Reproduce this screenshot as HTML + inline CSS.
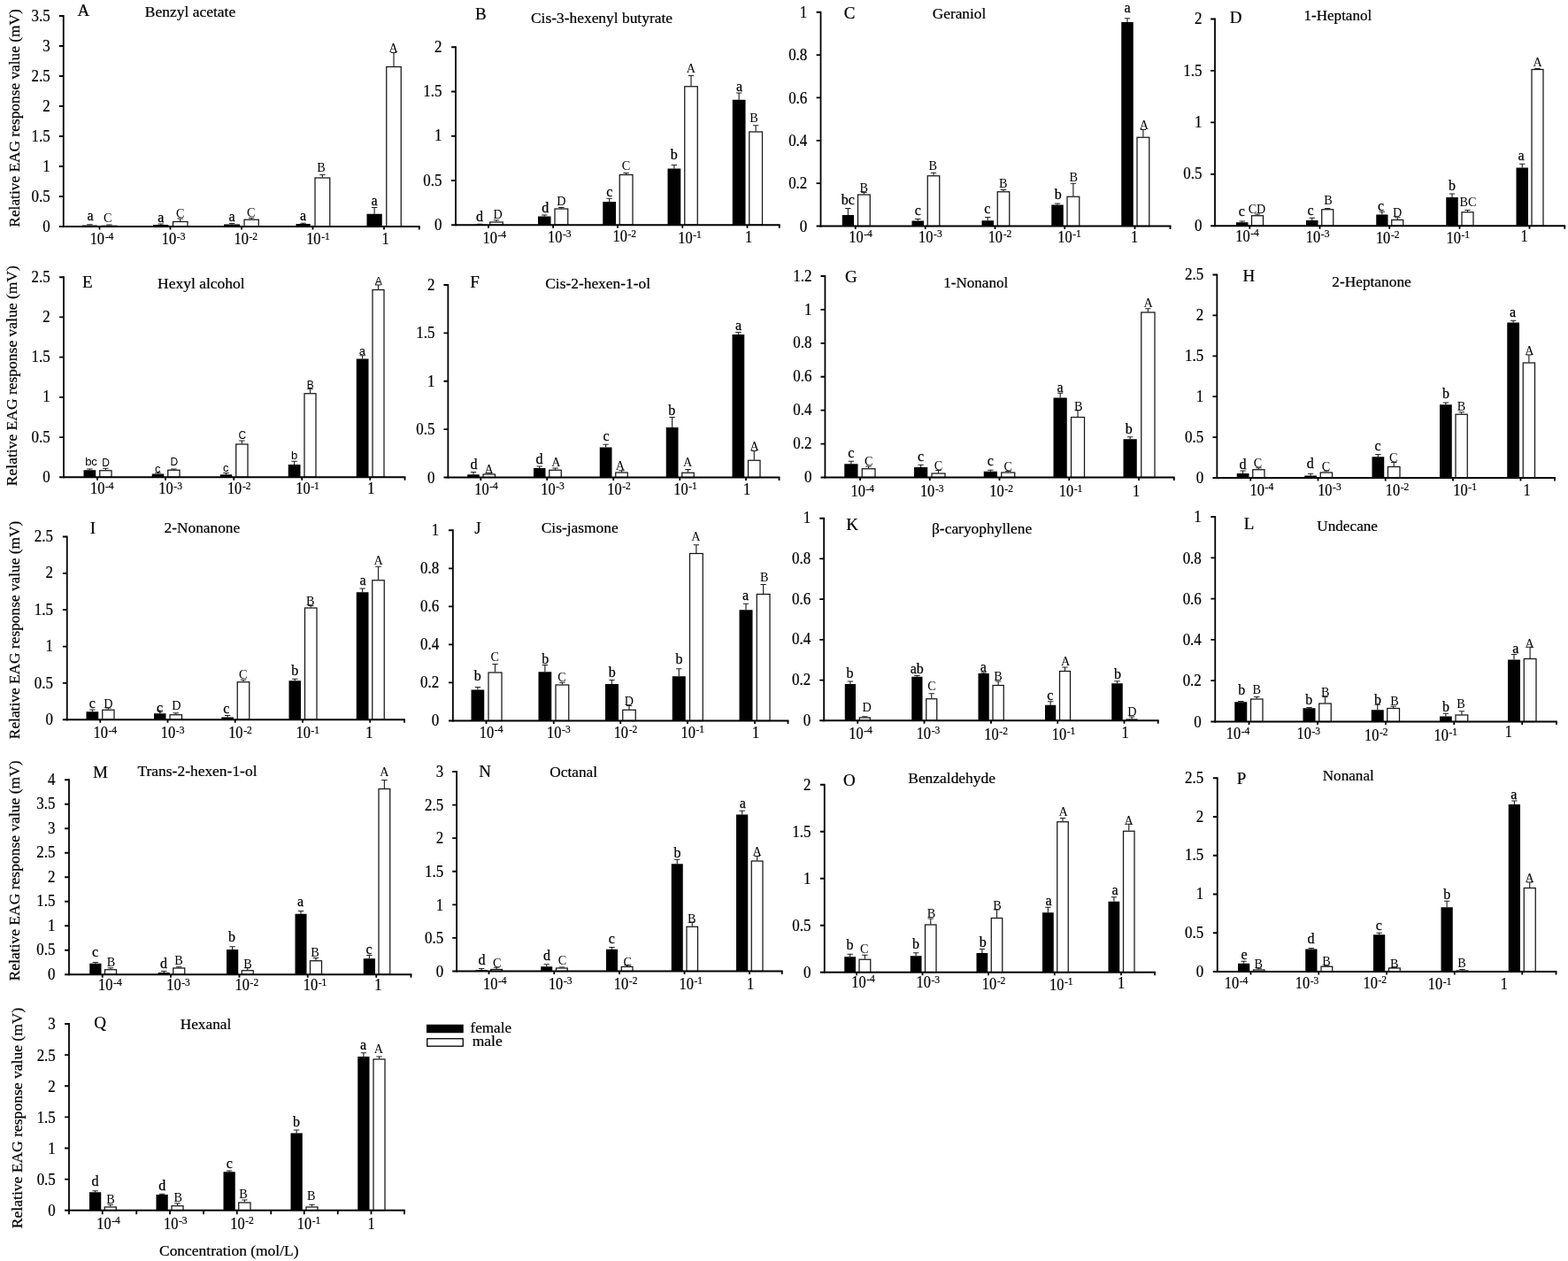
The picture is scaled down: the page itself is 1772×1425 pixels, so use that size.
<!DOCTYPE html>
<html lang="en"><head><meta charset="utf-8"><title>Relative EAG response values</title>
<style>
html,body{margin:0;padding:0;background:#fff;}
body{width:1772px;height:1425px;overflow:hidden;}
svg{display:block;}
text{font-family:'Liberation Serif',serif;fill:#000;stroke:#000;stroke-width:0.22px;}
.ax{stroke:#000;stroke-width:2.2;fill:none;}
.ay{stroke:#000;stroke-width:1.8;fill:none;}
.tk{stroke:#000;stroke-width:1.8;fill:none;}
.eb{stroke:#222;stroke-width:1.15;fill:none;}
.bb{fill:#000;}
.wb{fill:#fff;stroke:#151515;stroke-width:1.25;}
.yt{font-size:18.2px;text-anchor:end;}
.xt{font-size:18.4px;}
.sp{font-size:13px;}
.l{font-size:16px;text-anchor:middle;stroke-width:0.25px;}
.u{font-size:14.2px;text-anchor:middle;stroke:none;}
.ls{font-family:'Liberation Sans',sans-serif;font-size:13px;text-anchor:middle;stroke:none;}
.us{font-family:'Liberation Sans',sans-serif;font-size:12px;text-anchor:middle;stroke:none;}
.pl{font-size:19px;}
.ti{font-size:17px;}
.yl{font-size:17.5px;}
.lg{font-size:17px;}
</style></head>
<body>
<svg width="1772" height="1425" viewBox="0 0 1772 1425">
<rect width="1772" height="1425" fill="#fff"/>
<g id="pA">
<path d="M101.38 254.5V253.75M98.17 253.75H104.58" class="eb"/>
<path d="M123.5 254.75V254M120.3 254H126.7" class="eb"/>
<rect x="93" y="254.5" width="16.75" height="1.5" class="bb"/>
<rect x="115" y="255.25" width="17" height="0.75" class="wb"/>
<path d="M181.75 254V253M178.55 253H184.95" class="eb"/>
<path d="M203.75 250V247M200.55 247H206.95" class="eb"/>
<rect x="173" y="254" width="17.5" height="2" class="bb"/>
<rect x="195.5" y="250.5" width="16.5" height="5.5" class="wb"/>
<path d="M262.12 253.5V252.5M258.93 252.5H265.32" class="eb"/>
<path d="M284.12 247.75V246.25M280.93 246.25H287.32" class="eb"/>
<rect x="253" y="253.5" width="18.25" height="2.5" class="bb"/>
<rect x="276" y="248.25" width="16.25" height="7.75" class="wb"/>
<path d="M342.62 253V252.25M339.43 252.25H345.82" class="eb"/>
<path d="M364.38 200.5V197.5M361.18 197.5H367.57" class="eb"/>
<rect x="334.5" y="253" width="16.25" height="3" class="bb"/>
<rect x="356" y="201" width="16.75" height="55" class="wb"/>
<path d="M423.12 241.75V234.5M419.93 234.5H426.32" class="eb"/>
<path d="M445 75V59.5M441.8 59.5H448.2" class="eb"/>
<rect x="414.5" y="241.75" width="17.25" height="14.25" class="bb"/>
<rect x="436.75" y="75.5" width="16.5" height="180.5" class="wb"/>
<path d="M71.75 17.1V257.1" class="ay"/>
<path d="M66.85 256H474.65" class="ax"/>
<path d="M66.85 18H71.75M66.85 52H71.75M66.85 86H71.75M66.85 120H71.75M66.85 154H71.75M66.85 188H71.75M66.85 222H71.75M112.5 256V259.6M192.5 256V259.6M273 256V259.6M353.5 256V259.6M434 256V259.6M473.75 256V259.6" class="tk"/>
<text transform="translate(56.7 23.6) scale(0.93 1)" class="yt">3.5</text>
<text transform="translate(56.7 57.6) scale(0.93 1)" class="yt">3</text>
<text transform="translate(56.7 91.6) scale(0.93 1)" class="yt">2.5</text>
<text transform="translate(56.7 125.6) scale(0.93 1)" class="yt">2</text>
<text transform="translate(56.7 159.6) scale(0.93 1)" class="yt">1.5</text>
<text transform="translate(56.7 193.6) scale(0.93 1)" class="yt">1</text>
<text transform="translate(56.7 227.6) scale(0.93 1)" class="yt">0.5</text>
<text transform="translate(56.7 261.6) scale(0.93 1)" class="yt">0</text>
<text transform="translate(101.65 276.45) scale(0.89 1)" class="xt">10<tspan class="sp" dx="0.7" dy="-5.6">-4</tspan></text>
<text transform="translate(182.82 276.45) scale(0.89 1)" class="xt">10<tspan class="sp" dx="0.7" dy="-5.6">-3</tspan></text>
<text transform="translate(264.48 276.45) scale(0.89 1)" class="xt">10<tspan class="sp" dx="0.7" dy="-5.6">-2</tspan></text>
<text transform="translate(346.15 276.45) scale(0.89 1)" class="xt">10<tspan class="sp" dx="0.7" dy="-5.6">-1</tspan></text>
<text transform="translate(435.7 276.45) scale(0.89 1)" class="xt" text-anchor="middle">1</text>
<text x="102" y="248.75" class="l">a</text>
<text x="181.75" y="250.5" class="l">a</text>
<text x="262" y="249.5" class="l">a</text>
<text x="342.5" y="249.25" class="l">a</text>
<text x="423" y="231.75" class="l">a</text>
<text x="121.75" y="251.2" class="u">C</text>
<text x="203.75" y="245.7" class="u">C</text>
<text x="283.75" y="245.45" class="u">C</text>
<text x="363" y="194.2" class="u">B</text>
<text x="444.5" y="58.7" class="u">A</text>
<text x="87.5" y="17.5" class="pl">A</text>
<text x="163.75" y="18.75" class="ti" textLength="102.5" lengthAdjust="spacingAndGlyphs">Benzyl acetate</text>
<text transform="translate(22 133.4) rotate(-90)" class="yl" text-anchor="middle" textLength="246.5" lengthAdjust="spacingAndGlyphs">Relative EAG response value (mV)</text>
</g>
<g id="pB">
<path d="M542.25 253.75V253.25M539.05 253.25H545.45" class="eb"/>
<path d="M561 250.5V248.75M557.8 248.75H564.2" class="eb"/>
<rect x="535" y="253.75" width="14.5" height="0.5" class="bb"/>
<rect x="553.75" y="251" width="14.5" height="3.25" class="wb"/>
<path d="M615.25 244.5V243M612.05 243H618.45" class="eb"/>
<path d="M634.38 235.5V234.5M631.17 234.5H637.58" class="eb"/>
<rect x="608" y="244.5" width="14.5" height="9.75" class="bb"/>
<rect x="627" y="236" width="14.75" height="18.25" class="wb"/>
<path d="M688.62 228V224.25M685.42 224.25H691.83" class="eb"/>
<path d="M707.62 197V195.5M704.42 195.5H710.83" class="eb"/>
<rect x="681.25" y="228" width="14.75" height="26.25" class="bb"/>
<rect x="700.25" y="197.5" width="14.75" height="56.75" class="wb"/>
<path d="M761.88 190.5V186.5M758.67 186.5H765.08" class="eb"/>
<path d="M781 97.25V85.5M777.8 85.5H784.2" class="eb"/>
<rect x="754.5" y="190.5" width="14.75" height="63.75" class="bb"/>
<rect x="773.75" y="97.75" width="14.5" height="156.5" class="wb"/>
<path d="M835.12 112.75V105M831.92 105H838.33" class="eb"/>
<path d="M854.12 148.5V141.75M850.92 141.75H857.33" class="eb"/>
<rect x="827.75" y="112.75" width="14.75" height="141.5" class="bb"/>
<rect x="846.75" y="149" width="14.75" height="105.25" class="wb"/>
<path d="M515 52.35V255.35" class="ay"/>
<path d="M510.1 254.25H881.65" class="ax"/>
<path d="M510.1 53.25H515M510.1 103.5H515M510.1 153.75H515M510.1 204H515M552 254.25V257.85M625 254.25V257.85M698 254.25V257.85M771.25 254.25V257.85M844.5 254.25V257.85M880.75 254.25V257.85" class="tk"/>
<text transform="translate(499.5 58.85) scale(0.93 1)" class="yt">2</text>
<text transform="translate(499.5 109.1) scale(0.93 1)" class="yt">1.5</text>
<text transform="translate(499.5 159.35) scale(0.93 1)" class="yt">1</text>
<text transform="translate(499.5 209.6) scale(0.93 1)" class="yt">0.5</text>
<text transform="translate(499.5 259.85) scale(0.93 1)" class="yt">0</text>
<text transform="translate(545.5 275) scale(0.89 1)" class="xt">10<tspan class="sp" dx="0.7" dy="-5.6">-4</tspan></text>
<text transform="translate(619 273.9) scale(0.89 1)" class="xt">10<tspan class="sp" dx="0.7" dy="-5.6">-3</tspan></text>
<text transform="translate(692.5 273.4) scale(0.89 1)" class="xt">10<tspan class="sp" dx="0.7" dy="-5.6">-2</tspan></text>
<text transform="translate(766.25 274.5) scale(0.89 1)" class="xt">10<tspan class="sp" dx="0.7" dy="-5.6">-1</tspan></text>
<text transform="translate(846 273.9) scale(0.89 1)" class="xt" text-anchor="middle">1</text>
<text x="542" y="249.5" class="l">d</text>
<text x="616.25" y="240" class="l">d</text>
<text x="688.75" y="222" class="l">c</text>
<text x="761.75" y="180" class="l">b</text>
<text x="835.5" y="102.5" class="l">a</text>
<text x="562.5" y="247.45" class="u">D</text>
<text x="634.25" y="232.45" class="u">D</text>
<text x="707.5" y="192.45" class="u">C</text>
<text x="780.75" y="82.45" class="u">A</text>
<text x="852" y="138.2" class="u">B</text>
<text x="537" y="22" class="pl">B</text>
<text x="600" y="25.75" class="ti" textLength="160" lengthAdjust="spacingAndGlyphs">Cis-3-hexenyl butyrate</text>
</g>
<g id="pC">
<path d="M958.38 243V235.5M955.17 235.5H961.58" class="eb"/>
<path d="M976.38 219.5V217.5M973.17 217.5H979.58" class="eb"/>
<rect x="951.75" y="243" width="13.25" height="12.5" class="bb"/>
<rect x="969.5" y="220" width="13.75" height="35.5" class="wb"/>
<path d="M1037.25 249.5V247.5M1034.05 247.5H1040.45" class="eb"/>
<path d="M1055 198.25V195.25M1051.8 195.25H1058.2" class="eb"/>
<rect x="1030.5" y="249.5" width="13.5" height="6" class="bb"/>
<rect x="1048.25" y="198.75" width="13.5" height="56.75" class="wb"/>
<path d="M1116.25 249.25V245.5M1113.05 245.5H1119.45" class="eb"/>
<path d="M1134 216.25V214.5M1130.8 214.5H1137.2" class="eb"/>
<rect x="1109.5" y="249.25" width="13.5" height="6.25" class="bb"/>
<rect x="1127.25" y="216.75" width="13.5" height="38.75" class="wb"/>
<path d="M1195 231.5V230M1191.8 230H1198.2" class="eb"/>
<path d="M1212.88 221.75V207.25M1209.67 207.25H1216.08" class="eb"/>
<rect x="1188.25" y="231.5" width="13.5" height="24" class="bb"/>
<rect x="1206" y="222.25" width="13.75" height="33.25" class="wb"/>
<path d="M1274 25V20.75M1270.8 20.75H1277.2" class="eb"/>
<path d="M1291.88 154.75V146.5M1288.67 146.5H1295.08" class="eb"/>
<rect x="1267.25" y="25" width="13.5" height="230.5" class="bb"/>
<rect x="1285" y="155.25" width="13.75" height="100.25" class="wb"/>
<path d="M927.5 12.85V256.6" class="ay"/>
<path d="M922.6 255.5H1323.4" class="ax"/>
<path d="M922.6 13.75H927.5M922.6 62.1H927.5M922.6 110.45H927.5M922.6 158.8H927.5M922.6 207.15H927.5M966.75 255.5V259.1M1045.75 255.5V259.1M1124.5 255.5V259.1M1203.25 255.5V259.1M1282.5 255.5V259.1M1322.5 255.5V259.1" class="tk"/>
<text transform="translate(912.3 19.85) scale(0.93 1)" class="yt">1</text>
<text transform="translate(912.3 68.2) scale(0.93 1)" class="yt">0.8</text>
<text transform="translate(912.3 116.55) scale(0.93 1)" class="yt">0.6</text>
<text transform="translate(912.3 164.9) scale(0.93 1)" class="yt">0.4</text>
<text transform="translate(912.3 213.25) scale(0.93 1)" class="yt">0.2</text>
<text transform="translate(912.3 261.6) scale(0.93 1)" class="yt">0</text>
<text transform="translate(959.25 273.6) scale(0.89 1)" class="xt">10<tspan class="sp" dx="0.7" dy="-5.6">-4</tspan></text>
<text transform="translate(1038.08 273.6) scale(0.89 1)" class="xt">10<tspan class="sp" dx="0.7" dy="-5.6">-3</tspan></text>
<text transform="translate(1116.67 273.6) scale(0.89 1)" class="xt">10<tspan class="sp" dx="0.7" dy="-5.6">-2</tspan></text>
<text transform="translate(1195.25 273.6) scale(0.89 1)" class="xt">10<tspan class="sp" dx="0.7" dy="-5.6">-1</tspan></text>
<text transform="translate(1282 273.6) scale(0.89 1)" class="xt" text-anchor="middle">1</text>
<text x="958.25" y="231.25" class="l">bc</text>
<text x="1037.25" y="243" class="l">c</text>
<text x="1115.75" y="240.5" class="l">c</text>
<text x="1195.75" y="225" class="l">b</text>
<text x="1274" y="13.75" class="l">a</text>
<text x="976.25" y="216.7" class="u">B</text>
<text x="1054.25" y="191.7" class="u">B</text>
<text x="1133.75" y="211.7" class="u">B</text>
<text x="1213.25" y="204.7" class="u">B</text>
<text x="1292.75" y="146.2" class="u">A</text>
<text x="953.75" y="21" class="pl">C</text>
<text x="1053.75" y="21.25" class="ti" textLength="60.5" lengthAdjust="spacingAndGlyphs">Geraniol</text>
</g>
<g id="pD">
<path d="M1403.75 251.25V250M1400.55 250H1406.95" class="eb"/>
<path d="M1421 243.25V242M1417.8 242H1424.2" class="eb"/>
<rect x="1397" y="251.25" width="13.5" height="4" class="bb"/>
<rect x="1414.5" y="243.75" width="13" height="11.5" class="wb"/>
<path d="M1482.75 249V246.25M1479.55 246.25H1485.95" class="eb"/>
<path d="M1500.25 236.25V235.5M1497.05 235.5H1503.45" class="eb"/>
<rect x="1476" y="249" width="13.5" height="6.25" class="bb"/>
<rect x="1493.75" y="236.75" width="13" height="18.5" class="wb"/>
<path d="M1561.88 242.5V239.25M1558.67 239.25H1565.08" class="eb"/>
<path d="M1579.25 248V245.75M1576.05 245.75H1582.45" class="eb"/>
<rect x="1555.25" y="242.5" width="13.25" height="12.75" class="bb"/>
<rect x="1572.75" y="248.5" width="13" height="6.75" class="wb"/>
<path d="M1641 223V219M1637.8 219H1644.2" class="eb"/>
<path d="M1658.5 239.25V237.5M1655.3 237.5H1661.7" class="eb"/>
<rect x="1634.25" y="223" width="13.5" height="32.25" class="bb"/>
<rect x="1652" y="239.75" width="13" height="15.5" class="wb"/>
<path d="M1720.25 189.5V185.25M1717.05 185.25H1723.45" class="eb"/>
<path d="M1737.5 78V77.5M1734.3 77.5H1740.7" class="eb"/>
<rect x="1713.5" y="189.5" width="13.5" height="65.75" class="bb"/>
<rect x="1731" y="78.5" width="13" height="176.75" class="wb"/>
<path d="M1373 20.6V256.35" class="ay"/>
<path d="M1368.1 255.25H1769.15" class="ax"/>
<path d="M1368.1 21.5H1373M1368.1 79.94H1373M1368.1 138.38H1373M1368.1 196.81H1373M1412.25 255.25V258.85M1491.5 255.25V258.85M1570.25 255.25V258.85M1649.5 255.25V258.85M1728.5 255.25V258.85M1768.25 255.25V258.85" class="tk"/>
<text transform="translate(1358.5 27.1) scale(0.93 1)" class="yt">2</text>
<text transform="translate(1358.5 85.54) scale(0.93 1)" class="yt">1.5</text>
<text transform="translate(1358.5 143.97) scale(0.93 1)" class="yt">1</text>
<text transform="translate(1358.5 202.41) scale(0.93 1)" class="yt">0.5</text>
<text transform="translate(1358.5 260.85) scale(0.93 1)" class="yt">0</text>
<text transform="translate(1396.25 273.05) scale(0.89 1)" class="xt">10<tspan class="sp" dx="0.7" dy="-5.6">-4</tspan></text>
<text transform="translate(1475.83 274.05) scale(0.89 1)" class="xt">10<tspan class="sp" dx="0.7" dy="-5.6">-3</tspan></text>
<text transform="translate(1554.92 275.05) scale(0.89 1)" class="xt">10<tspan class="sp" dx="0.7" dy="-5.6">-2</tspan></text>
<text transform="translate(1634.5 275.05) scale(0.89 1)" class="xt">10<tspan class="sp" dx="0.7" dy="-5.6">-1</tspan></text>
<text transform="translate(1722.5 273.05) scale(0.89 1)" class="xt" text-anchor="middle">1</text>
<text x="1403.25" y="243.75" class="l">c</text>
<text x="1481" y="242.5" class="l">c</text>
<text x="1560.5" y="237.5" class="l">c</text>
<text x="1641" y="215" class="l">b</text>
<text x="1719" y="180.5" class="l">a</text>
<text x="1420.5" y="241.2" class="u">CD</text>
<text x="1501" y="230.7" class="u">B</text>
<text x="1579" y="244.95" class="u">D</text>
<text x="1659" y="233.2" class="u">BC</text>
<text x="1737.5" y="74.95" class="u">A</text>
<text x="1389.75" y="26" class="pl">D</text>
<text x="1473.5" y="22.5" class="ti" textLength="76.75" lengthAdjust="spacingAndGlyphs">1-Heptanol</text>
</g>
<g id="pE">
<path d="M101.38 531.25V530M98.17 530H104.58" class="eb"/>
<path d="M119.38 531.25V529.25M116.17 529.25H122.58" class="eb"/>
<rect x="94.5" y="531.25" width="13.75" height="8" class="bb"/>
<rect x="112.75" y="531.75" width="13.25" height="7.5" class="wb"/>
<path d="M178.5 535.5V534.25M175.3 534.25H181.7" class="eb"/>
<path d="M196.38 530.75V530M193.18 530H199.57" class="eb"/>
<rect x="171.75" y="535.5" width="13.5" height="3.75" class="bb"/>
<rect x="189.75" y="531.25" width="13.25" height="8" class="wb"/>
<path d="M255.5 536.25V534.5M252.3 534.5H258.7" class="eb"/>
<path d="M273.38 501.5V498M270.18 498H276.57" class="eb"/>
<rect x="248.75" y="536.25" width="13.5" height="3" class="bb"/>
<rect x="266.75" y="502" width="13.25" height="37.25" class="wb"/>
<path d="M332.62 525V521.25M329.43 521.25H335.82" class="eb"/>
<path d="M350.5 444.25V439.5M347.3 439.5H353.7" class="eb"/>
<rect x="325.75" y="525" width="13.75" height="14.25" class="bb"/>
<rect x="344" y="444.75" width="13" height="94.5" class="wb"/>
<path d="M409.62 405.5V401.75M406.43 401.75H412.82" class="eb"/>
<path d="M427.5 327V322M424.3 322H430.7" class="eb"/>
<rect x="402.75" y="405.5" width="13.75" height="133.75" class="bb"/>
<rect x="421" y="327.5" width="13" height="211.75" class="wb"/>
<path d="M72 312.35V540.35" class="ay"/>
<path d="M67.1 539.25H458.4" class="ax"/>
<path d="M67.1 313.25H72M67.1 358.45H72M67.1 403.65H72M67.1 448.85H72M67.1 494.05H72M110 539.25V542.85M187 539.25V542.85M264.25 539.25V542.85M341.25 539.25V542.85M418.25 539.25V542.85M457.5 539.25V542.85" class="tk"/>
<text transform="translate(56.7 318.85) scale(0.93 1)" class="yt">2.5</text>
<text transform="translate(56.7 364.05) scale(0.93 1)" class="yt">2</text>
<text transform="translate(56.7 409.25) scale(0.93 1)" class="yt">1.5</text>
<text transform="translate(56.7 454.45) scale(0.93 1)" class="yt">1</text>
<text transform="translate(56.7 499.65) scale(0.93 1)" class="yt">0.5</text>
<text transform="translate(56.7 544.85) scale(0.93 1)" class="yt">0</text>
<text transform="translate(102 558.1) scale(0.89 1)" class="xt">10<tspan class="sp" dx="0.7" dy="-5.6">-4</tspan></text>
<text transform="translate(179.33 558.1) scale(0.89 1)" class="xt">10<tspan class="sp" dx="0.7" dy="-5.6">-3</tspan></text>
<text transform="translate(256.92 558.1) scale(0.89 1)" class="xt">10<tspan class="sp" dx="0.7" dy="-5.6">-2</tspan></text>
<text transform="translate(334.25 558.1) scale(0.89 1)" class="xt">10<tspan class="sp" dx="0.7" dy="-5.6">-1</tspan></text>
<text transform="translate(419.25 558.1) scale(0.89 1)" class="xt" text-anchor="middle">1</text>
<text x="103" y="526.25" class="ls">bc</text>
<text x="178.25" y="533.75" class="ls">c</text>
<text x="255.25" y="532.5" class="ls">c</text>
<text x="332.5" y="518.75" class="ls">b</text>
<text x="409.25" y="400.5" class="ls">a</text>
<text x="119.5" y="526.75" class="us">D</text>
<text x="196.75" y="526.25" class="us">D</text>
<text x="273.75" y="495.5" class="us">C</text>
<text x="350.75" y="438.75" class="us">B</text>
<text x="427.75" y="322.25" class="us">A</text>
<text x="93" y="324.5" class="pl">E</text>
<text x="178" y="325.75" class="ti" textLength="98.75" lengthAdjust="spacingAndGlyphs">Hexyl alcohol</text>
<text transform="translate(18.8 424.7) rotate(-90)" class="yl" text-anchor="middle" textLength="249" lengthAdjust="spacingAndGlyphs">Relative EAG response value (mV)</text>
</g>
<g id="pF">
<path d="M535 536.25V533.5M531.8 533.5H538.2" class="eb"/>
<path d="M552.75 535.5V534.5M549.55 534.5H555.95" class="eb"/>
<rect x="528.25" y="536.25" width="13.5" height="3.25" class="bb"/>
<rect x="546" y="536" width="13.5" height="3.5" class="wb"/>
<path d="M609.75 529V527M606.55 527H612.95" class="eb"/>
<path d="M627.5 530.75V529M624.3 529H630.7" class="eb"/>
<rect x="603" y="529" width="13.5" height="10.5" class="bb"/>
<rect x="620.75" y="531.25" width="13.5" height="8.25" class="wb"/>
<path d="M684.62 505.5V502.25M681.42 502.25H687.83" class="eb"/>
<path d="M702.5 533.5V531.75M699.3 531.75H705.7" class="eb"/>
<rect x="677.75" y="505.5" width="13.75" height="34" class="bb"/>
<rect x="695.75" y="534" width="13.5" height="5.5" class="wb"/>
<path d="M759.62 483V471.5M756.42 471.5H762.83" class="eb"/>
<path d="M777.5 533.75V530.5M774.3 530.5H780.7" class="eb"/>
<rect x="752.75" y="483" width="13.75" height="56.5" class="bb"/>
<rect x="770.75" y="534.25" width="13.5" height="5.25" class="wb"/>
<path d="M834.38 378V375.5M831.17 375.5H837.58" class="eb"/>
<path d="M852.25 519.75V509.5M849.05 509.5H855.45" class="eb"/>
<rect x="827.5" y="378" width="13.75" height="161.5" class="bb"/>
<rect x="845.5" y="520.25" width="13.5" height="19.25" class="wb"/>
<path d="M506.35 321.1V540.6" class="ay"/>
<path d="M501.45 539.5H881.4" class="ax"/>
<path d="M501.45 322H506.35M501.45 376.38H506.35M501.45 430.75H506.35M501.45 485.12H506.35M543.25 539.5V543.1M618.25 539.5V543.1M693.25 539.5V543.1M768.25 539.5V543.1M843 539.5V543.1M880.5 539.5V543.1" class="tk"/>
<text transform="translate(491.4 328.1) scale(0.93 1)" class="yt">2</text>
<text transform="translate(491.4 382.48) scale(0.93 1)" class="yt">1.5</text>
<text transform="translate(491.4 436.85) scale(0.93 1)" class="yt">1</text>
<text transform="translate(491.4 491.23) scale(0.93 1)" class="yt">0.5</text>
<text transform="translate(491.4 545.6) scale(0.93 1)" class="yt">0</text>
<text transform="translate(536.25 558.85) scale(0.89 1)" class="xt">10<tspan class="sp" dx="0.7" dy="-5.6">-4</tspan></text>
<text transform="translate(611.25 558.85) scale(0.89 1)" class="xt">10<tspan class="sp" dx="0.7" dy="-5.6">-3</tspan></text>
<text transform="translate(686.25 558.85) scale(0.89 1)" class="xt">10<tspan class="sp" dx="0.7" dy="-5.6">-2</tspan></text>
<text transform="translate(761.25 558.85) scale(0.89 1)" class="xt">10<tspan class="sp" dx="0.7" dy="-5.6">-1</tspan></text>
<text transform="translate(844 558.85) scale(0.89 1)" class="xt" text-anchor="middle">1</text>
<text x="535.5" y="530" class="l">d</text>
<text x="609.5" y="523.75" class="l">d</text>
<text x="685" y="498" class="l">c</text>
<text x="759.25" y="468.75" class="l">b</text>
<text x="834.5" y="373" class="l">a</text>
<text x="552.5" y="534.95" class="u">A</text>
<text x="628.25" y="526.95" class="u">A</text>
<text x="700.75" y="530.7" class="u">A</text>
<text x="777" y="527.45" class="u">A</text>
<text x="852.5" y="508.7" class="u">A</text>
<text x="531.25" y="324.5" class="pl">F</text>
<text x="616.25" y="326.25" class="ti" textLength="118.75" lengthAdjust="spacingAndGlyphs">Cis-2-hexen-1-ol</text>
</g>
<g id="pG">
<path d="M961.88 524.25V521.25M958.67 521.25H965.08" class="eb"/>
<path d="M981.62 529.25V527M978.42 527H984.83" class="eb"/>
<rect x="954.25" y="524.25" width="15.25" height="15.25" class="bb"/>
<rect x="974.25" y="529.75" width="14.75" height="9.75" class="wb"/>
<path d="M1040.62 528V525.25M1037.42 525.25H1043.83" class="eb"/>
<path d="M1060.5 534.5V531.5M1057.3 531.5H1063.7" class="eb"/>
<rect x="1033" y="528" width="15.25" height="11.5" class="bb"/>
<rect x="1053" y="535" width="15" height="4.5" class="wb"/>
<path d="M1119.38 532.75V531.25M1116.17 531.25H1122.58" class="eb"/>
<path d="M1139.25 533.5V532.5M1136.05 532.5H1142.45" class="eb"/>
<rect x="1111.75" y="532.75" width="15.25" height="6.75" class="bb"/>
<rect x="1131.75" y="534" width="15" height="5.5" class="wb"/>
<path d="M1198.12 449.5V444.25M1194.92 444.25H1201.33" class="eb"/>
<path d="M1218 471V463.75M1214.8 463.75H1221.2" class="eb"/>
<rect x="1190.5" y="449.5" width="15.25" height="90" class="bb"/>
<rect x="1210.5" y="471.5" width="15" height="68" class="wb"/>
<path d="M1277.12 496.25V493.75M1273.92 493.75H1280.33" class="eb"/>
<path d="M1297.38 352.5V348.75M1294.17 348.75H1300.58" class="eb"/>
<rect x="1269.5" y="496.25" width="15.25" height="43.25" class="bb"/>
<rect x="1289.75" y="353" width="15.25" height="186.5" class="wb"/>
<path d="M932.4 311.1V540.6" class="ay"/>
<path d="M927.5 539.5H1327.65" class="ax"/>
<path d="M927.5 312H932.4M927.5 349.92H932.4M927.5 387.83H932.4M927.5 425.75H932.4M927.5 463.67H932.4M927.5 501.58H932.4M972 539.5V543.1M1050.75 539.5V543.1M1129.5 539.5V543.1M1208.25 539.5V543.1M1287 539.5V543.1M1326.75 539.5V543.1" class="tk"/>
<text transform="translate(917.4 317.6) scale(0.93 1)" class="yt">1.2</text>
<text transform="translate(917.4 355.52) scale(0.93 1)" class="yt">1</text>
<text transform="translate(917.4 393.43) scale(0.93 1)" class="yt">0.8</text>
<text transform="translate(917.4 431.35) scale(0.93 1)" class="yt">0.6</text>
<text transform="translate(917.4 469.27) scale(0.93 1)" class="yt">0.4</text>
<text transform="translate(917.4 507.18) scale(0.93 1)" class="yt">0.2</text>
<text transform="translate(917.4 545.1) scale(0.93 1)" class="yt">0</text>
<text transform="translate(961.5 561.35) scale(0.89 1)" class="xt">10<tspan class="sp" dx="0.7" dy="-5.6">-4</tspan></text>
<text transform="translate(1039.92 561.35) scale(0.89 1)" class="xt">10<tspan class="sp" dx="0.7" dy="-5.6">-3</tspan></text>
<text transform="translate(1118.33 561.35) scale(0.89 1)" class="xt">10<tspan class="sp" dx="0.7" dy="-5.6">-2</tspan></text>
<text transform="translate(1196.75 561.35) scale(0.89 1)" class="xt">10<tspan class="sp" dx="0.7" dy="-5.6">-1</tspan></text>
<text transform="translate(1284 561.35) scale(0.89 1)" class="xt" text-anchor="middle">1</text>
<text x="961.75" y="517" class="l">c</text>
<text x="1040.5" y="520.5" class="l">c</text>
<text x="1119.25" y="526.25" class="l">c</text>
<text x="1198" y="442.5" class="l">a</text>
<text x="1275.75" y="490" class="l">b</text>
<text x="981.75" y="526.2" class="u">C</text>
<text x="1060.5" y="531.2" class="u">C</text>
<text x="1139.25" y="531.7" class="u">C</text>
<text x="1218.75" y="463.7" class="u">B</text>
<text x="1297.5" y="347.45" class="u">A</text>
<text x="955" y="318.75" class="pl">G</text>
<text x="1066.25" y="325" class="ti" textLength="73" lengthAdjust="spacingAndGlyphs">1-Nonanol</text>
</g>
<g id="pH">
<path d="M1404.62 535V532M1401.42 532H1407.83" class="eb"/>
<path d="M1422.38 530.25V528.75M1419.17 528.75H1425.58" class="eb"/>
<rect x="1397.75" y="535" width="13.75" height="5" class="bb"/>
<rect x="1415.75" y="530.75" width="13.25" height="9.25" class="wb"/>
<path d="M1481.12 537.5V535.25M1477.92 535.25H1484.33" class="eb"/>
<path d="M1498.88 533.5V532M1495.67 532H1502.08" class="eb"/>
<rect x="1474.25" y="537.5" width="13.75" height="2.5" class="bb"/>
<rect x="1492.25" y="534" width="13.25" height="6" class="wb"/>
<path d="M1557.38 516.25V513.5M1554.17 513.5H1560.58" class="eb"/>
<path d="M1575.25 527V522.5M1572.05 522.5H1578.45" class="eb"/>
<rect x="1550.5" y="516.25" width="13.75" height="23.75" class="bb"/>
<rect x="1568.5" y="527.5" width="13.5" height="12.5" class="wb"/>
<path d="M1633.88 457.25V455M1630.67 455H1637.08" class="eb"/>
<path d="M1651.62 467.75V465.75M1648.42 465.75H1654.83" class="eb"/>
<rect x="1627" y="457.25" width="13.75" height="82.75" class="bb"/>
<rect x="1645" y="468.25" width="13.25" height="71.75" class="wb"/>
<path d="M1710.12 364.5V362.25M1706.92 362.25H1713.33" class="eb"/>
<path d="M1727.88 409.5V401M1724.67 401H1731.08" class="eb"/>
<rect x="1703.25" y="364.5" width="13.75" height="175.5" class="bb"/>
<rect x="1721.25" y="410" width="13.25" height="130" class="wb"/>
<path d="M1375.35 309.6V541.1" class="ay"/>
<path d="M1370.45 540H1757.9" class="ax"/>
<path d="M1370.45 310.5H1375.35M1370.45 356.4H1375.35M1370.45 402.3H1375.35M1370.45 448.2H1375.35M1370.45 494.1H1375.35M1413.25 540V543.6M1489.5 540V543.6M1565.75 540V543.6M1642 540V543.6M1718.5 540V543.6M1757 540V543.6" class="tk"/>
<text transform="translate(1360.25 316.1) scale(0.93 1)" class="yt">2.5</text>
<text transform="translate(1360.25 362) scale(0.93 1)" class="yt">2</text>
<text transform="translate(1360.25 407.9) scale(0.93 1)" class="yt">1.5</text>
<text transform="translate(1360.25 453.8) scale(0.93 1)" class="yt">1</text>
<text transform="translate(1360.25 499.7) scale(0.93 1)" class="yt">0.5</text>
<text transform="translate(1360.25 545.6) scale(0.93 1)" class="yt">0</text>
<text transform="translate(1412.55 559.6) scale(0.89 1)" class="xt">10<tspan class="sp" dx="0.7" dy="-5.6">-4</tspan></text>
<text transform="translate(1489.13 559.6) scale(0.89 1)" class="xt">10<tspan class="sp" dx="0.7" dy="-5.6">-3</tspan></text>
<text transform="translate(1565.72 559.6) scale(0.89 1)" class="xt">10<tspan class="sp" dx="0.7" dy="-5.6">-2</tspan></text>
<text transform="translate(1642.3 559.6) scale(0.89 1)" class="xt">10<tspan class="sp" dx="0.7" dy="-5.6">-1</tspan></text>
<text transform="translate(1725.5 559.6) scale(0.89 1)" class="xt" text-anchor="middle">1</text>
<text x="1404.5" y="529.5" class="l">d</text>
<text x="1480.75" y="529.25" class="l">d</text>
<text x="1557" y="508.75" class="l">c</text>
<text x="1634" y="450" class="l">b</text>
<text x="1709.5" y="358" class="l">a</text>
<text x="1421.5" y="528.2" class="u">C</text>
<text x="1498.5" y="531.95" class="u">C</text>
<text x="1574.75" y="521.7" class="u">C</text>
<text x="1651.5" y="464.2" class="u">B</text>
<text x="1728.25" y="401.2" class="u">A</text>
<text x="1404.5" y="318.25" class="pl">H</text>
<text x="1505.25" y="323.75" class="ti" textLength="89.5" lengthAdjust="spacingAndGlyphs">2-Heptanone</text>
</g>
<g id="pI">
<path d="M104.38 804.25V802M101.17 802H107.58" class="eb"/>
<path d="M122.38 801.75V800M119.17 800H125.58" class="eb"/>
<rect x="97.5" y="804.25" width="13.75" height="9" class="bb"/>
<rect x="115.75" y="802.25" width="13.25" height="11" class="wb"/>
<path d="M180.75 806.25V803M177.55 803H183.95" class="eb"/>
<path d="M198.75 807.25V805.75M195.55 805.75H201.95" class="eb"/>
<rect x="174" y="806.25" width="13.5" height="7" class="bb"/>
<rect x="192" y="807.75" width="13.5" height="5.5" class="wb"/>
<path d="M257.12 810.5V808.5M253.93 808.5H260.32" class="eb"/>
<path d="M275 770.25V768.25M271.8 768.25H278.2" class="eb"/>
<rect x="250.25" y="810.5" width="13.75" height="2.75" class="bb"/>
<rect x="268.25" y="770.75" width="13.5" height="42.5" class="wb"/>
<path d="M333.25 769.25V767.25M330.05 767.25H336.45" class="eb"/>
<path d="M351.25 686.5V684.5M348.05 684.5H354.45" class="eb"/>
<rect x="326.5" y="769.25" width="13.5" height="44" class="bb"/>
<rect x="344.5" y="687" width="13.5" height="126.25" class="wb"/>
<path d="M409.62 669.25V665M406.43 665H412.82" class="eb"/>
<path d="M427.5 655.25V640.25M424.3 640.25H430.7" class="eb"/>
<rect x="402.75" y="669.25" width="13.75" height="144" class="bb"/>
<rect x="420.75" y="655.75" width="13.5" height="157.5" class="wb"/>
<path d="M75.75 605.6V814.35" class="ay"/>
<path d="M70.85 813.25H457.9" class="ax"/>
<path d="M70.85 606.5H75.75M70.85 647.85H75.75M70.85 689.2H75.75M70.85 730.55H75.75M70.85 771.9H75.75M113.25 813.25V816.85M189.5 813.25V816.85M265.75 813.25V816.85M342 813.25V816.85M418.25 813.25V816.85M457 813.25V816.85" class="tk"/>
<text transform="translate(60 612.1) scale(0.93 1)" class="yt">2.5</text>
<text transform="translate(60 653.45) scale(0.93 1)" class="yt">2</text>
<text transform="translate(60 694.8) scale(0.93 1)" class="yt">1.5</text>
<text transform="translate(60 736.15) scale(0.93 1)" class="yt">1</text>
<text transform="translate(60 777.5) scale(0.93 1)" class="yt">0.5</text>
<text transform="translate(60 818.85) scale(0.93 1)" class="yt">0</text>
<text transform="translate(105.45 834.1) scale(0.89 1)" class="xt">10<tspan class="sp" dx="0.7" dy="-5.6">-4</tspan></text>
<text transform="translate(181.8 834.1) scale(0.89 1)" class="xt">10<tspan class="sp" dx="0.7" dy="-5.6">-3</tspan></text>
<text transform="translate(258.15 834.1) scale(0.89 1)" class="xt">10<tspan class="sp" dx="0.7" dy="-5.6">-2</tspan></text>
<text transform="translate(334.5 834.1) scale(0.89 1)" class="xt">10<tspan class="sp" dx="0.7" dy="-5.6">-1</tspan></text>
<text transform="translate(417.25 834.1) scale(0.89 1)" class="xt" text-anchor="middle">1</text>
<text x="104.25" y="800" class="l">c</text>
<text x="180.5" y="804.5" class="l">c</text>
<text x="255.75" y="806.25" class="l">c</text>
<text x="333.25" y="762.5" class="l">b</text>
<text x="410" y="661.25" class="l">a</text>
<text x="122.25" y="799.95" class="u">D</text>
<text x="199.25" y="801.95" class="u">D</text>
<text x="274.75" y="767.45" class="u">C</text>
<text x="350.75" y="683.7" class="u">B</text>
<text x="427.5" y="638.2" class="u">A</text>
<text x="101.75" y="603.25" class="pl">I</text>
<text x="185.5" y="602" class="ti" textLength="85.75" lengthAdjust="spacingAndGlyphs">2-Nonanone</text>
<text transform="translate(21.7 711.9) rotate(-90)" class="yl" text-anchor="middle" textLength="246.5" lengthAdjust="spacingAndGlyphs">Relative EAG response value (mV)</text>
</g>
<g id="pJ">
<path d="M539.88 779.5V776.5M536.67 776.5H543.08" class="eb"/>
<path d="M559.5 759.5V750.5M556.3 750.5H562.7" class="eb"/>
<rect x="532.5" y="779.5" width="14.75" height="35" class="bb"/>
<rect x="552" y="760" width="15" height="54.5" class="wb"/>
<path d="M615.88 759.25V751.5M612.67 751.5H619.08" class="eb"/>
<path d="M635.38 773.5V771.25M632.17 771.25H638.58" class="eb"/>
<rect x="608.5" y="759.25" width="14.75" height="55.25" class="bb"/>
<rect x="628" y="774" width="14.75" height="40.5" class="wb"/>
<path d="M691.5 773V768.5M688.3 768.5H694.7" class="eb"/>
<path d="M711 801.75V797.5M707.8 797.5H714.2" class="eb"/>
<rect x="684" y="773" width="15" height="41.5" class="bb"/>
<rect x="703.75" y="802.25" width="14.5" height="12.25" class="wb"/>
<path d="M767.25 764.25V755.75M764.05 755.75H770.45" class="eb"/>
<path d="M786.88 625V615.75M783.67 615.75H790.08" class="eb"/>
<rect x="759.75" y="764.25" width="15" height="50.25" class="bb"/>
<rect x="779.5" y="625.5" width="14.75" height="189" class="wb"/>
<path d="M843 689.25V682.25M839.8 682.25H846.2" class="eb"/>
<path d="M862.62 671V660.5M859.42 660.5H865.83" class="eb"/>
<rect x="835.5" y="689.25" width="15" height="125.25" class="bb"/>
<rect x="855.25" y="671.5" width="14.75" height="143" class="wb"/>
<path d="M511.85 598.35V815.6" class="ay"/>
<path d="M506.95 814.5H891.4" class="ax"/>
<path d="M506.95 599.25H511.85M506.95 642.3H511.85M506.95 685.35H511.85M506.95 728.4H511.85M506.95 771.45H511.85M549.5 814.5V818.1M625.75 814.5V818.1M701.25 814.5V818.1M777 814.5V818.1M853 814.5V818.1M890.5 814.5V818.1" class="tk"/>
<text transform="translate(496.25 604.85) scale(0.93 1)" class="yt">1</text>
<text transform="translate(496.25 647.9) scale(0.93 1)" class="yt">0.8</text>
<text transform="translate(496.25 690.95) scale(0.93 1)" class="yt">0.6</text>
<text transform="translate(496.25 734) scale(0.93 1)" class="yt">0.4</text>
<text transform="translate(496.25 777.05) scale(0.93 1)" class="yt">0.2</text>
<text transform="translate(496.25 820.1) scale(0.93 1)" class="yt">0</text>
<text transform="translate(541.8 833.85) scale(0.89 1)" class="xt">10<tspan class="sp" dx="0.7" dy="-5.6">-4</tspan></text>
<text transform="translate(618.12 833.85) scale(0.89 1)" class="xt">10<tspan class="sp" dx="0.7" dy="-5.6">-3</tspan></text>
<text transform="translate(693.68 833.85) scale(0.89 1)" class="xt">10<tspan class="sp" dx="0.7" dy="-5.6">-2</tspan></text>
<text transform="translate(769.5 833.85) scale(0.89 1)" class="xt">10<tspan class="sp" dx="0.7" dy="-5.6">-1</tspan></text>
<text transform="translate(854 833.85) scale(0.89 1)" class="xt" text-anchor="middle">1</text>
<text x="539.75" y="768.75" class="l">b</text>
<text x="616.25" y="749.5" class="l">b</text>
<text x="691.75" y="765" class="l">b</text>
<text x="767.5" y="750" class="l">b</text>
<text x="842.5" y="677.5" class="l">a</text>
<text x="559.25" y="747.45" class="u">C</text>
<text x="635" y="769.95" class="u">C</text>
<text x="710.75" y="796.7" class="u">D</text>
<text x="786.25" y="611.2" class="u">A</text>
<text x="863.75" y="657.45" class="u">B</text>
<text x="536.25" y="602.5" class="pl">J</text>
<text x="611.75" y="601.75" class="ti" textLength="87" lengthAdjust="spacingAndGlyphs">Cis-jasmone</text>
</g>
<g id="pK">
<path d="M960.88 773V770M957.67 770H964.08" class="eb"/>
<path d="M977.25 810.5V809.75M974.05 809.75H980.45" class="eb"/>
<rect x="954.75" y="773" width="12.25" height="41.25" class="bb"/>
<rect x="971.25" y="811" width="12" height="3.25" class="wb"/>
<path d="M1036.38 764.75V763.5M1033.17 763.5H1039.58" class="eb"/>
<path d="M1052.75 789.25V783.75M1049.55 783.75H1055.95" class="eb"/>
<rect x="1030.25" y="764.75" width="12.25" height="49.5" class="bb"/>
<rect x="1046.75" y="789.75" width="12" height="24.5" class="wb"/>
<path d="M1111.62 761V760M1108.42 760H1114.83" class="eb"/>
<path d="M1128.12 774V770M1124.92 770H1131.33" class="eb"/>
<rect x="1105.5" y="761" width="12.25" height="53.25" class="bb"/>
<rect x="1122" y="774.5" width="12.25" height="39.75" class="wb"/>
<path d="M1187.12 796.75V792.75M1183.92 792.75H1190.33" class="eb"/>
<path d="M1203.5 758V754M1200.3 754H1206.7" class="eb"/>
<rect x="1181" y="796.75" width="12.25" height="17.5" class="bb"/>
<rect x="1197.5" y="758.5" width="12" height="55.75" class="wb"/>
<path d="M1262.5 772.25V769.75M1259.3 769.75H1265.7" class="eb"/>
<path d="M1279 812.5V810M1275.8 810H1282.2" class="eb"/>
<rect x="1256.25" y="772.25" width="12.5" height="42" class="bb"/>
<rect x="1273" y="813" width="12" height="1.25" class="wb"/>
<path d="M931.15 584.85V815.35" class="ay"/>
<path d="M926.25 814.25H1309.65" class="ax"/>
<path d="M926.25 585.75H931.15M926.25 631.45H931.15M926.25 677.15H931.15M926.25 722.85H931.15M926.25 768.55H931.15M969.25 814.25V817.85M1044.5 814.25V817.85M1120 814.25V817.85M1195.25 814.25V817.85M1270.5 814.25V817.85M1308.75 814.25V817.85" class="tk"/>
<text transform="translate(916.25 591.35) scale(0.93 1)" class="yt">1</text>
<text transform="translate(916.25 637.05) scale(0.93 1)" class="yt">0.8</text>
<text transform="translate(916.25 682.75) scale(0.93 1)" class="yt">0.6</text>
<text transform="translate(916.25 728.45) scale(0.93 1)" class="yt">0.4</text>
<text transform="translate(916.25 774.15) scale(0.93 1)" class="yt">0.2</text>
<text transform="translate(916.25 819.85) scale(0.93 1)" class="yt">0</text>
<text transform="translate(959.25 834.6) scale(0.89 1)" class="xt">10<tspan class="sp" dx="0.7" dy="-5.6">-4</tspan></text>
<text transform="translate(1035.67 834.6) scale(0.89 1)" class="xt">10<tspan class="sp" dx="0.7" dy="-5.6">-3</tspan></text>
<text transform="translate(1112.33 835.9) scale(0.89 1)" class="xt">10<tspan class="sp" dx="0.7" dy="-5.6">-2</tspan></text>
<text transform="translate(1188.75 835.9) scale(0.89 1)" class="xt">10<tspan class="sp" dx="0.7" dy="-5.6">-1</tspan></text>
<text transform="translate(1271.5 833.8) scale(0.89 1)" class="xt" text-anchor="middle">1</text>
<text x="960.5" y="765.5" class="l">b</text>
<text x="1036.25" y="761.25" class="l">ab</text>
<text x="1111.25" y="758.75" class="l">a</text>
<text x="1186.75" y="790.5" class="l">c</text>
<text x="1263" y="767" class="l">b</text>
<text x="979.5" y="804.2" class="u">D</text>
<text x="1053" y="779.95" class="u">C</text>
<text x="1128" y="769.2" class="u">B</text>
<text x="1204" y="752.45" class="u">A</text>
<text x="1279.25" y="809.2" class="u">D</text>
<text x="956.25" y="599.25" class="pl">K</text>
<text x="1053" y="603.25" class="ti" textLength="113.25" lengthAdjust="spacingAndGlyphs">β-caryophyllene</text>
</g>
<g id="pL">
<path d="M1402.25 793.25V792.5M1399.05 792.5H1405.45" class="eb"/>
<path d="M1420.25 789.5V787.5M1417.05 787.5H1423.45" class="eb"/>
<rect x="1395.25" y="793.25" width="14" height="22.25" class="bb"/>
<rect x="1413.5" y="790" width="13.5" height="25.5" class="wb"/>
<path d="M1479.5 800.25V799.5M1476.3 799.5H1482.7" class="eb"/>
<path d="M1497.5 794.5V787.5M1494.3 787.5H1500.7" class="eb"/>
<rect x="1472.5" y="800.25" width="14" height="15.25" class="bb"/>
<rect x="1490.75" y="795" width="13.5" height="20.5" class="wb"/>
<path d="M1556.75 802.25V796.25M1553.55 796.25H1559.95" class="eb"/>
<path d="M1574.62 800V798.25M1571.42 798.25H1577.83" class="eb"/>
<rect x="1549.75" y="802.25" width="14" height="13.25" class="bb"/>
<rect x="1567.75" y="800.5" width="13.75" height="15" class="wb"/>
<path d="M1633.88 809.5V806.25M1630.67 806.25H1637.08" class="eb"/>
<path d="M1651.88 807.5V803.75M1648.67 803.75H1655.08" class="eb"/>
<rect x="1627" y="809.5" width="13.75" height="6" class="bb"/>
<rect x="1645" y="808" width="13.75" height="7.5" class="wb"/>
<path d="M1711 745.5V739.5M1707.8 739.5H1714.2" class="eb"/>
<path d="M1729.12 744V731.25M1725.92 731.25H1732.33" class="eb"/>
<rect x="1704" y="745.5" width="14" height="70" class="bb"/>
<rect x="1722.25" y="744.5" width="13.75" height="71" class="wb"/>
<path d="M1373.25 583.1V816.6" class="ay"/>
<path d="M1368.35 815.5H1759.9" class="ax"/>
<path d="M1368.35 584H1373.25M1368.35 630.3H1373.25M1368.35 676.6H1373.25M1368.35 722.9H1373.25M1368.35 769.2H1373.25M1411.5 815.5V819.1M1489 815.5V819.1M1566 815.5V819.1M1643.25 815.5V819.1M1720.25 815.5V819.1M1759 815.5V819.1" class="tk"/>
<text transform="translate(1357.8 590.2) scale(0.93 1)" class="yt">1</text>
<text transform="translate(1357.8 636.5) scale(0.93 1)" class="yt">0.8</text>
<text transform="translate(1357.8 682.8) scale(0.93 1)" class="yt">0.6</text>
<text transform="translate(1357.8 729.1) scale(0.93 1)" class="yt">0.4</text>
<text transform="translate(1357.8 775.4) scale(0.93 1)" class="yt">0.2</text>
<text transform="translate(1357.8 821.7) scale(0.93 1)" class="yt">0</text>
<text transform="translate(1385.7 835.45) scale(0.89 1)" class="xt">10<tspan class="sp" dx="0.7" dy="-5.6">-4</tspan></text>
<text transform="translate(1465.45 835.45) scale(0.89 1)" class="xt">10<tspan class="sp" dx="0.7" dy="-5.6">-3</tspan></text>
<text transform="translate(1541.95 836.7) scale(0.89 1)" class="xt">10<tspan class="sp" dx="0.7" dy="-5.6">-2</tspan></text>
<text transform="translate(1620.45 836.7) scale(0.89 1)" class="xt">10<tspan class="sp" dx="0.7" dy="-5.6">-1</tspan></text>
<text transform="translate(1704.75 833.45) scale(0.89 1)" class="xt" text-anchor="middle">1</text>
<text x="1403.25" y="785" class="l">b</text>
<text x="1479.25" y="795.75" class="l">b</text>
<text x="1557" y="796.25" class="l">b</text>
<text x="1634" y="803.75" class="l">b</text>
<text x="1712.75" y="738" class="l">a</text>
<text x="1420.25" y="784.45" class="u">B</text>
<text x="1497.75" y="786.95" class="u">B</text>
<text x="1576" y="797.45" class="u">B</text>
<text x="1651" y="800.45" class="u">B</text>
<text x="1728.5" y="732.45" class="u">A</text>
<text x="1405.75" y="598" class="pl">L</text>
<text x="1488.25" y="599.5" class="ti" textLength="68.75" lengthAdjust="spacingAndGlyphs">Undecane</text>
</g>
<g id="pM">
<path d="M107.88 1088.75V1087.5M104.67 1087.5H111.08" class="eb"/>
<path d="M125 1095.25V1093.75M121.8 1093.75H128.2" class="eb"/>
<rect x="101.25" y="1088.75" width="13.25" height="12.5" class="bb"/>
<rect x="118.5" y="1095.75" width="13" height="5.5" class="wb"/>
<path d="M185.25 1099V1097.5M182.05 1097.5H188.45" class="eb"/>
<path d="M202.25 1093.5V1092.75M199.05 1092.75H205.45" class="eb"/>
<rect x="178.75" y="1099" width="13" height="2.25" class="bb"/>
<rect x="195.75" y="1094" width="13" height="7.25" class="wb"/>
<path d="M262.62 1073V1069.75M259.43 1069.75H265.82" class="eb"/>
<path d="M279.75 1096.25V1093.75M276.55 1093.75H282.95" class="eb"/>
<rect x="256" y="1073" width="13.25" height="28.25" class="bb"/>
<rect x="273.25" y="1096.75" width="13" height="4.5" class="wb"/>
<path d="M340 1032.75V1029.5M336.8 1029.5H343.2" class="eb"/>
<path d="M357 1085.25V1082.5M353.8 1082.5H360.2" class="eb"/>
<rect x="333.5" y="1032.75" width="13" height="68.5" class="bb"/>
<rect x="350.5" y="1085.75" width="13" height="15.5" class="wb"/>
<path d="M417.38 1083.25V1079.5M414.18 1079.5H420.57" class="eb"/>
<path d="M434.38 891V881.5M431.18 881.5H437.57" class="eb"/>
<rect x="410.75" y="1083.25" width="13.25" height="18" class="bb"/>
<rect x="428" y="891.5" width="12.75" height="209.75" class="wb"/>
<path d="M78 880.35V1102.35" class="ay"/>
<path d="M73.1 1101.25H465.4" class="ax"/>
<path d="M73.1 881.25H78M73.1 908.75H78M73.1 936.25H78M73.1 963.75H78M73.1 991.25H78M73.1 1018.75H78M73.1 1046.25H78M73.1 1073.75H78M115.75 1101.25V1104.85M193 1101.25V1104.85M270.5 1101.25V1104.85M347.75 1101.25V1104.85M425.25 1101.25V1104.85M464.5 1101.25V1104.85" class="tk"/>
<text transform="translate(62.5 886.85) scale(0.93 1)" class="yt">4</text>
<text transform="translate(62.5 914.35) scale(0.93 1)" class="yt">3.5</text>
<text transform="translate(62.5 941.85) scale(0.93 1)" class="yt">3</text>
<text transform="translate(62.5 969.35) scale(0.93 1)" class="yt">2.5</text>
<text transform="translate(62.5 996.85) scale(0.93 1)" class="yt">2</text>
<text transform="translate(62.5 1024.35) scale(0.93 1)" class="yt">1.5</text>
<text transform="translate(62.5 1051.85) scale(0.93 1)" class="yt">1</text>
<text transform="translate(62.5 1079.35) scale(0.93 1)" class="yt">0.5</text>
<text transform="translate(62.5 1106.85) scale(0.93 1)" class="yt">0</text>
<text transform="translate(111.05 1119.1) scale(0.89 1)" class="xt">10<tspan class="sp" dx="0.7" dy="-5.6">-4</tspan></text>
<text transform="translate(188.2 1119.1) scale(0.89 1)" class="xt">10<tspan class="sp" dx="0.7" dy="-5.6">-3</tspan></text>
<text transform="translate(265.6 1119.1) scale(0.89 1)" class="xt">10<tspan class="sp" dx="0.7" dy="-5.6">-2</tspan></text>
<text transform="translate(342.75 1119.1) scale(0.89 1)" class="xt">10<tspan class="sp" dx="0.7" dy="-5.6">-1</tspan></text>
<text transform="translate(427.25 1119.1) scale(0.89 1)" class="xt" text-anchor="middle">1</text>
<text x="107.5" y="1080.75" class="l">c</text>
<text x="185" y="1093.75" class="l">d</text>
<text x="262" y="1064.25" class="l">b</text>
<text x="339.5" y="1023.75" class="l">a</text>
<text x="417" y="1078" class="l">c</text>
<text x="125.5" y="1091.95" class="u">B</text>
<text x="202" y="1089.95" class="u">B</text>
<text x="280" y="1094.2" class="u">B</text>
<text x="356" y="1081.2" class="u">B</text>
<text x="434.25" y="877.45" class="u">A</text>
<text x="105" y="878.75" class="pl">M</text>
<text x="155.5" y="876.75" class="ti" textLength="135" lengthAdjust="spacingAndGlyphs">Trans-2-hexen-1-ol</text>
<text transform="translate(22.35 983.9) rotate(-90)" class="yl" text-anchor="middle" textLength="249" lengthAdjust="spacingAndGlyphs">Relative EAG response value (mV)</text>
</g>
<g id="pN">
<path d="M544.12 1096V1094.5M540.92 1094.5H547.33" class="eb"/>
<path d="M561.12 1095V1093.25M557.92 1093.25H564.33" class="eb"/>
<rect x="537.5" y="1096" width="13.25" height="1.5" class="bb"/>
<rect x="554.75" y="1095.5" width="12.75" height="2" class="wb"/>
<path d="M617.75 1092.25V1089.75M614.55 1089.75H620.95" class="eb"/>
<path d="M634.88 1093.5V1093M631.67 1093H638.08" class="eb"/>
<rect x="611.25" y="1092.25" width="13" height="5.25" class="bb"/>
<rect x="628.5" y="1094" width="12.75" height="3.5" class="wb"/>
<path d="M691.5 1072.75V1070.5M688.3 1070.5H694.7" class="eb"/>
<path d="M708.62 1092V1090.5M705.42 1090.5H711.83" class="eb"/>
<rect x="685" y="1072.75" width="13" height="24.75" class="bb"/>
<rect x="702.25" y="1092.5" width="12.75" height="5" class="wb"/>
<path d="M765.25 976.25V971.25M762.05 971.25H768.45" class="eb"/>
<path d="M782.25 1046.75V1042M779.05 1042H785.45" class="eb"/>
<rect x="758.75" y="976.25" width="13" height="121.25" class="bb"/>
<rect x="776" y="1047.25" width="12.5" height="50.25" class="wb"/>
<path d="M838.62 920.5V916.25M835.42 916.25H841.83" class="eb"/>
<path d="M855.62 972.5V967.5M852.42 967.5H858.83" class="eb"/>
<rect x="832" y="920.5" width="13.25" height="177" class="bb"/>
<rect x="849.25" y="973" width="12.75" height="124.5" class="wb"/>
<path d="M516.1 871.1V1098.6" class="ay"/>
<path d="M511.2 1097.5H884.65" class="ax"/>
<path d="M511.2 872H516.1M511.2 909.58H516.1M511.2 947.17H516.1M511.2 984.75H516.1M511.2 1022.33H516.1M511.2 1059.92H516.1M552.5 1097.5V1101.1M626.25 1097.5V1101.1M700 1097.5V1101.1M773.5 1097.5V1101.1M847 1097.5V1101.1M883.75 1097.5V1101.1" class="tk"/>
<text transform="translate(501.1 878.2) scale(0.93 1)" class="yt">3</text>
<text transform="translate(501.1 915.78) scale(0.93 1)" class="yt">2.5</text>
<text transform="translate(501.1 953.37) scale(0.93 1)" class="yt">2</text>
<text transform="translate(501.1 990.95) scale(0.93 1)" class="yt">1.5</text>
<text transform="translate(501.1 1028.53) scale(0.93 1)" class="yt">1</text>
<text transform="translate(501.1 1066.12) scale(0.93 1)" class="yt">0.5</text>
<text transform="translate(501.1 1103.7) scale(0.93 1)" class="yt">0</text>
<text transform="translate(546 1117.6) scale(0.89 1)" class="xt">10<tspan class="sp" dx="0.7" dy="-5.6">-4</tspan></text>
<text transform="translate(619.92 1117.6) scale(0.89 1)" class="xt">10<tspan class="sp" dx="0.7" dy="-5.6">-3</tspan></text>
<text transform="translate(693.83 1117.6) scale(0.89 1)" class="xt">10<tspan class="sp" dx="0.7" dy="-5.6">-2</tspan></text>
<text transform="translate(767.5 1117.6) scale(0.89 1)" class="xt">10<tspan class="sp" dx="0.7" dy="-5.6">-1</tspan></text>
<text transform="translate(848 1117.6) scale(0.89 1)" class="xt" text-anchor="middle">1</text>
<text x="544.5" y="1090" class="l">d</text>
<text x="618" y="1085" class="l">d</text>
<text x="691.25" y="1066.25" class="l">c</text>
<text x="765.5" y="968.75" class="l">b</text>
<text x="839.25" y="912.5" class="l">a</text>
<text x="561.75" y="1093.2" class="u">C</text>
<text x="635.5" y="1090.45" class="u">C</text>
<text x="709.25" y="1091.95" class="u">C</text>
<text x="781.75" y="1043.2" class="u">B</text>
<text x="855.5" y="967.45" class="u">A</text>
<text x="541.25" y="877.5" class="pl">N</text>
<text x="621.25" y="878.25" class="ti" textLength="53.75" lengthAdjust="spacingAndGlyphs">Octanal</text>
</g>
<g id="pO">
<path d="M960.62 1081.25V1078.25M957.42 1078.25H963.83" class="eb"/>
<path d="M977.38 1083.75V1079.25M974.17 1079.25H980.58" class="eb"/>
<rect x="954.25" y="1081.25" width="12.75" height="17.5" class="bb"/>
<rect x="971" y="1084.25" width="12.75" height="14.5" class="wb"/>
<path d="M1035.12 1080.25V1076.75M1031.92 1076.75H1038.33" class="eb"/>
<path d="M1051.75 1044.5V1038M1048.55 1038H1054.95" class="eb"/>
<rect x="1028.75" y="1080.25" width="12.75" height="18.5" class="bb"/>
<rect x="1045.5" y="1045" width="12.5" height="53.75" class="wb"/>
<path d="M1109.88 1077V1072.5M1106.67 1072.5H1113.08" class="eb"/>
<path d="M1126.5 1037V1028M1123.3 1028H1129.7" class="eb"/>
<rect x="1103.5" y="1077" width="12.75" height="21.75" class="bb"/>
<rect x="1120.25" y="1037.5" width="12.5" height="61.25" class="wb"/>
<path d="M1184.38 1031.25V1025.25M1181.17 1025.25H1187.58" class="eb"/>
<path d="M1201 928.25V924.5M1197.8 924.5H1204.2" class="eb"/>
<rect x="1178" y="1031.25" width="12.75" height="67.5" class="bb"/>
<rect x="1194.75" y="928.75" width="12.5" height="170" class="wb"/>
<path d="M1258.88 1018.75V1013.75M1255.67 1013.75H1262.08" class="eb"/>
<path d="M1275.75 938.75V931.25M1272.55 931.25H1278.95" class="eb"/>
<rect x="1252.5" y="1018.75" width="12.75" height="80" class="bb"/>
<rect x="1269.5" y="939.25" width="12.5" height="159.5" class="wb"/>
<path d="M931.75 885.85V1099.85" class="ay"/>
<path d="M926.85 1098.75H1305.9" class="ax"/>
<path d="M926.85 886.75H931.75M926.85 939.75H931.75M926.85 992.75H931.75M926.85 1045.75H931.75M968 1098.75V1102.35M1042.5 1098.75V1102.35M1117 1098.75V1102.35M1191.75 1098.75V1102.35M1267 1098.75V1102.35M1305 1098.75V1102.35" class="tk"/>
<text transform="translate(916.4 892.95) scale(0.93 1)" class="yt">2</text>
<text transform="translate(916.4 945.95) scale(0.93 1)" class="yt">1.5</text>
<text transform="translate(916.4 998.95) scale(0.93 1)" class="yt">1</text>
<text transform="translate(916.4 1051.95) scale(0.93 1)" class="yt">0.5</text>
<text transform="translate(916.4 1104.95) scale(0.93 1)" class="yt">0</text>
<text transform="translate(962.2 1115.95) scale(0.89 1)" class="xt">10<tspan class="sp" dx="0.7" dy="-5.6">-4</tspan></text>
<text transform="translate(1035.45 1116.45) scale(0.89 1)" class="xt">10<tspan class="sp" dx="0.7" dy="-5.6">-3</tspan></text>
<text transform="translate(1109.7 1117.7) scale(0.89 1)" class="xt">10<tspan class="sp" dx="0.7" dy="-5.6">-2</tspan></text>
<text transform="translate(1185.95 1118.95) scale(0.89 1)" class="xt">10<tspan class="sp" dx="0.7" dy="-5.6">-1</tspan></text>
<text transform="translate(1267 1117.2) scale(0.89 1)" class="xt" text-anchor="middle">1</text>
<text x="960.5" y="1072.5" class="l">b</text>
<text x="1035" y="1072" class="l">b</text>
<text x="1110.75" y="1070" class="l">b</text>
<text x="1185" y="1023" class="l">a</text>
<text x="1260" y="1010.75" class="l">a</text>
<text x="976.75" y="1077.45" class="u">C</text>
<text x="1052.5" y="1037.45" class="u">B</text>
<text x="1127" y="1028.2" class="u">B</text>
<text x="1201.5" y="922.45" class="u">A</text>
<text x="1275.5" y="931.7" class="u">A</text>
<text x="953" y="888.25" class="pl">O</text>
<text x="1026.25" y="884.5" class="ti" textLength="98.75" lengthAdjust="spacingAndGlyphs">Benzaldehyde</text>
</g>
<g id="pP">
<path d="M1405.62 1088.75V1086.25M1402.42 1086.25H1408.83" class="eb"/>
<path d="M1422.75 1095.5V1094.25M1419.55 1094.25H1425.95" class="eb"/>
<rect x="1399" y="1088.75" width="13.25" height="9.25" class="bb"/>
<rect x="1416.5" y="1096" width="12.5" height="2" class="wb"/>
<path d="M1481.88 1072.5V1071.5M1478.67 1071.5H1485.08" class="eb"/>
<path d="M1499.38 1091.75V1091.25M1496.17 1091.25H1502.58" class="eb"/>
<rect x="1475.25" y="1072.5" width="13.25" height="25.5" class="bb"/>
<rect x="1493" y="1092.25" width="12.75" height="5.75" class="wb"/>
<path d="M1558.62 1056.25V1054.25M1555.42 1054.25H1561.83" class="eb"/>
<path d="M1575.88 1093.5V1092.75M1572.67 1092.75H1579.08" class="eb"/>
<rect x="1552" y="1056.25" width="13.25" height="41.75" class="bb"/>
<rect x="1569.5" y="1094" width="12.75" height="4" class="wb"/>
<path d="M1635.12 1025.25V1018.25M1631.92 1018.25H1638.33" class="eb"/>
<path d="M1652.5 1096.5V1095.5M1649.3 1095.5H1655.7" class="eb"/>
<rect x="1628.5" y="1025.25" width="13.25" height="72.75" class="bb"/>
<rect x="1646" y="1097" width="13" height="1" class="wb"/>
<path d="M1711.38 909V905M1708.17 905H1714.58" class="eb"/>
<path d="M1728.75 1003V997M1725.55 997H1731.95" class="eb"/>
<rect x="1704.75" y="909" width="13.25" height="189" class="bb"/>
<rect x="1722.25" y="1003.5" width="13" height="94.5" class="wb"/>
<path d="M1375.75 878.35V1099.1" class="ay"/>
<path d="M1370.85 1098H1759.4" class="ax"/>
<path d="M1370.85 879.25H1375.75M1370.85 923H1375.75M1370.85 966.75H1375.75M1370.85 1010.5H1375.75M1370.85 1054.25H1375.75M1413.5 1098V1101.6M1490.25 1098V1101.6M1567 1098V1101.6M1643.75 1098V1101.6M1720.25 1098V1101.6M1758.5 1098V1101.6" class="tk"/>
<text transform="translate(1360.25 884.85) scale(0.93 1)" class="yt">2.5</text>
<text transform="translate(1360.25 928.6) scale(0.93 1)" class="yt">2</text>
<text transform="translate(1360.25 972.35) scale(0.93 1)" class="yt">1.5</text>
<text transform="translate(1360.25 1016.1) scale(0.93 1)" class="yt">1</text>
<text transform="translate(1360.25 1059.85) scale(0.93 1)" class="yt">0.5</text>
<text transform="translate(1360.25 1103.6) scale(0.93 1)" class="yt">0</text>
<text transform="translate(1383.7 1117.2) scale(0.89 1)" class="xt">10<tspan class="sp" dx="0.7" dy="-5.6">-4</tspan></text>
<text transform="translate(1463.7 1117.2) scale(0.89 1)" class="xt">10<tspan class="sp" dx="0.7" dy="-5.6">-3</tspan></text>
<text transform="translate(1540.45 1116.7) scale(0.89 1)" class="xt">10<tspan class="sp" dx="0.7" dy="-5.6">-2</tspan></text>
<text transform="translate(1613.7 1118.45) scale(0.89 1)" class="xt">10<tspan class="sp" dx="0.7" dy="-5.6">-1</tspan></text>
<text transform="translate(1699.75 1118.45) scale(0.89 1)" class="xt" text-anchor="middle">1</text>
<text x="1406" y="1083.75" class="l">e</text>
<text x="1481.5" y="1065.75" class="l">d</text>
<text x="1558.25" y="1051.25" class="l">c</text>
<text x="1635.25" y="1016.25" class="l">b</text>
<text x="1710.75" y="903" class="l">a</text>
<text x="1422.25" y="1093.7" class="u">B</text>
<text x="1499" y="1090.7" class="u">B</text>
<text x="1575.75" y="1093.7" class="u">B</text>
<text x="1652" y="1093.2" class="u">B</text>
<text x="1728.5" y="997.45" class="u">A</text>
<text x="1397.75" y="886.25" class="pl">P</text>
<text x="1494.75" y="882" class="ti" textLength="58" lengthAdjust="spacingAndGlyphs">Nonanal</text>
</g>
<g id="pQ">
<path d="M107.62 1347.25V1345.75M104.42 1345.75H110.83" class="eb"/>
<path d="M124.75 1363.5V1361.25M121.55 1361.25H127.95" class="eb"/>
<rect x="101" y="1347.25" width="13.25" height="20.5" class="bb"/>
<rect x="118.25" y="1364" width="13" height="3.75" class="wb"/>
<path d="M183.12 1350V1349.25M179.93 1349.25H186.32" class="eb"/>
<path d="M200.5 1362.25V1359.75M197.3 1359.75H203.7" class="eb"/>
<rect x="176.5" y="1350" width="13.25" height="17.75" class="bb"/>
<rect x="194" y="1362.75" width="13" height="5" class="wb"/>
<path d="M259.12 1324.25V1323M255.93 1323H262.32" class="eb"/>
<path d="M276.38 1358.5V1356M273.18 1356H279.57" class="eb"/>
<rect x="252.5" y="1324.25" width="13.25" height="43.5" class="bb"/>
<rect x="269.75" y="1359" width="13.25" height="8.75" class="wb"/>
<path d="M335.12 1280.5V1277M331.93 1277H338.32" class="eb"/>
<path d="M352.5 1363.5V1361.25M349.3 1361.25H355.7" class="eb"/>
<rect x="328.5" y="1280.5" width="13.25" height="87.25" class="bb"/>
<rect x="346" y="1364" width="13" height="3.75" class="wb"/>
<path d="M410.88 1194V1189.75M407.68 1189.75H414.07" class="eb"/>
<path d="M428.5 1196.5V1194M425.3 1194H431.7" class="eb"/>
<rect x="404.25" y="1194" width="13.25" height="173.75" class="bb"/>
<rect x="422" y="1197" width="13" height="170.75" class="wb"/>
<path d="M78 1156.1V1368.85" class="ay"/>
<path d="M73.1 1367.75H457.9" class="ax"/>
<path d="M73.1 1157H78M73.1 1192.12H78M73.1 1227.25H78M73.1 1262.38H78M73.1 1297.5H78M73.1 1332.62H78M115.75 1367.75V1372.25M192 1367.75V1372.25M267.75 1367.75V1372.25M343.75 1367.75V1372.25M419.5 1367.75V1372.25M78 1367.75V1372.25M154.25 1367.75V1372.25M230 1367.75V1372.25M306.25 1367.75V1372.25M381.75 1367.75V1372.25M457 1367.75V1372.25" class="tk"/>
<text transform="translate(62.8 1163.4) scale(0.93 1)" class="yt">3</text>
<text transform="translate(62.8 1198.52) scale(0.93 1)" class="yt">2.5</text>
<text transform="translate(62.8 1233.65) scale(0.93 1)" class="yt">2</text>
<text transform="translate(62.8 1268.77) scale(0.93 1)" class="yt">1.5</text>
<text transform="translate(62.8 1303.9) scale(0.93 1)" class="yt">1</text>
<text transform="translate(62.8 1339.02) scale(0.93 1)" class="yt">0.5</text>
<text transform="translate(62.8 1374.15) scale(0.93 1)" class="yt">0</text>
<text transform="translate(109.25 1388.6) scale(0.89 1)" class="xt">10<tspan class="sp" dx="0.7" dy="-5.6">-4</tspan></text>
<text transform="translate(185 1388.6) scale(0.89 1)" class="xt">10<tspan class="sp" dx="0.7" dy="-5.6">-3</tspan></text>
<text transform="translate(260.25 1388.6) scale(0.89 1)" class="xt">10<tspan class="sp" dx="0.7" dy="-5.6">-2</tspan></text>
<text transform="translate(335.75 1388.6) scale(0.89 1)" class="xt">10<tspan class="sp" dx="0.7" dy="-5.6">-1</tspan></text>
<text transform="translate(419.5 1388.6) scale(0.89 1)" class="xt" text-anchor="middle">1</text>
<text x="107.5" y="1340.25" class="l">d</text>
<text x="183.25" y="1344.75" class="l">d</text>
<text x="259.25" y="1319.5" class="l">c</text>
<text x="335" y="1273.25" class="l">b</text>
<text x="410.5" y="1186" class="l">a</text>
<text x="125" y="1360.2" class="u">B</text>
<text x="201.25" y="1357.7" class="u">B</text>
<text x="275" y="1353.95" class="u">B</text>
<text x="351.75" y="1356.45" class="u">B</text>
<text x="427.75" y="1189.7" class="u">A</text>
<text x="106.25" y="1162.25" class="pl">Q</text>
<text x="203.75" y="1163.25" class="ti" textLength="57.5" lengthAdjust="spacingAndGlyphs">Hexanal</text>
<text transform="translate(24.7 1263.4) rotate(-90)" class="yl" text-anchor="middle" textLength="249.5" lengthAdjust="spacingAndGlyphs">Relative EAG response value (mV)</text>
</g>
<g id="legend"><rect x="482" y="1157.75" width="41.75" height="9.5" fill="#000"/>
<rect x="482.75" y="1173.75" width="40.5" height="8.5" fill="#fff" stroke="#000" stroke-width="1.3"/>
<text x="531.5" y="1166.5" class="lg" textLength="46.5" lengthAdjust="spacingAndGlyphs">female</text>
<text x="533.75" y="1181.5" class="lg" textLength="34" lengthAdjust="spacingAndGlyphs">male</text></g>
<text x="180" y="1418.5" class="ti" textLength="157.5" lengthAdjust="spacingAndGlyphs">Concentration (mol/L)</text>
</svg>
</body></html>
